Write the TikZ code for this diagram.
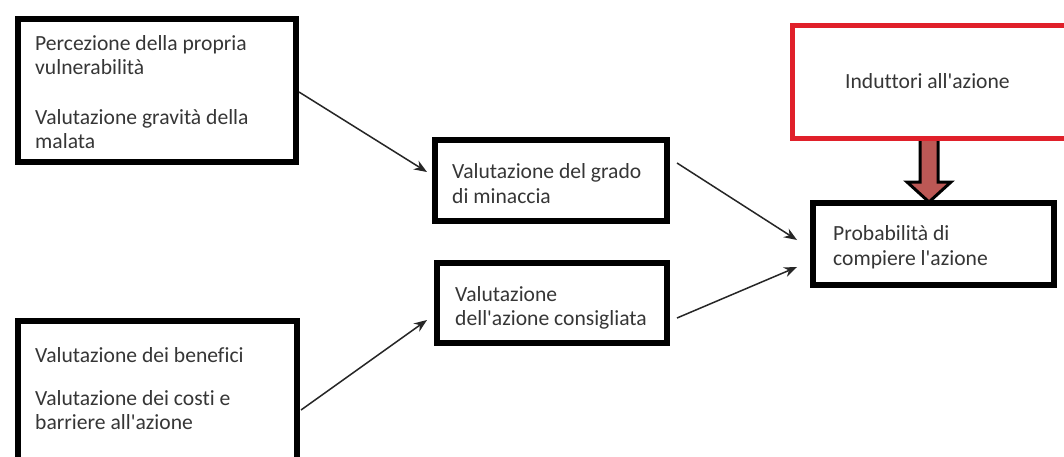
\documentclass[tikz,border=0pt]{standalone}
\usepackage{fontspec}
\setmainfont{Carlito}[Ligatures={NoCommon}]
\usetikzlibrary{arrows.meta}
\definecolor{txt}{HTML}{363636}
\definecolor{redbox}{HTML}{E0202A}
\definecolor{blockfill}{HTML}{BC5855}
\newcommand{\apo}{\textquotesingle}
\tikzset{
  box/.style={draw=black, line width=6pt, inner sep=0pt, fill=none},
  redframe/.style={draw=redbox, line width=5pt, inner sep=0pt},
  lbl/.style={anchor=base west, inner sep=0pt, text=txt, font=\fontsize{21.6}{24}\selectfont},
  conn/.style={draw=black!85, line width=1.5pt, -{Stealth[length=13pt,width=10pt]}},
  blockarrow/.style={draw=black, line width=3pt, fill=blockfill, line join=miter}
}
\begin{document}
\begin{tikzpicture}[x=1pt,y=-1pt]
\useasboundingbox (0,0) rectangle (1064,456);
\clip (0,0) rectangle (1064,456);
\fill[white] (0,0) rectangle (1064,456);

% block arrow from red box to probability box
\draw[blockarrow] (920,138) -- (938,138) -- (938,182) -- (951,182) -- (929,202) -- (907,182) -- (920,182) -- cycle;

% boxes
\node[box, minimum width=278pt, minimum height=143pt] (b1) at (157,90.5) {};
\node[box, minimum width=279pt, minimum height=149pt] (b2) at (157.5,395.5) {};
\node[box, minimum width=232pt, minimum height=81pt] (b3) at (551,180.5) {};
\node[box, minimum width=230pt, minimum height=80pt] (b4) at (552,303) {};
\node[box, minimum width=241pt, minimum height=82pt] (bp) at (933.5,244) {};
\node[redframe, minimum width=280pt, minimum height=113pt] (rb) at (932,81.5) {};

% texts
\node[lbl] (t1a) at (35,50) {Percezione della propria};
\node[lbl] (t1b) at (35,74) {vulnerabilità};
\node[lbl] (t1c) at (35,124) {Valutazione gravità della};
\node[lbl] (t1d) at (35,148) {malata};

\node[lbl] (t2a) at (35,362) {Valutazione dei benefici};
\node[lbl] (t2b) at (35,405) {Valutazione dei costi e};
\node[lbl] (t2c) at (35,429) {barriere all\apo azione};

\node[lbl] (t3a) at (452,178) {Valutazione del grado};
\node[lbl] (t3b) at (452,203) {di minaccia};

\node[lbl] (t4a) at (455,301) {Valutazione};
\node[lbl] (t4b) at (455,325) {dell\apo azione consigliata};

\node[lbl] (tr) at (845,88) {Induttori all\apo azione};

\node[lbl] (tpa) at (833,240) {Probabilità di};
\node[lbl] (tpb) at (833,265) {compiere l\apo azione};

% connectors
\draw[conn] ([yshift=-1.5pt]b1.east) -- ([xshift=-5pt,yshift=8.5pt]b3.west);
\draw[conn] ([xshift=1pt,yshift=-14.5pt]b2.east) -- ([xshift=-7pt,yshift=-17pt]b4.west);
\draw[conn] ([xshift=7pt,yshift=17.5pt]b3.east) -- ([xshift=-13pt,yshift=4pt]bp.west);
\draw[conn] ([xshift=7pt,yshift=-15pt]b4.east) -- ([xshift=-13pt,yshift=-23pt]bp.west);
\end{tikzpicture}
\end{document}
